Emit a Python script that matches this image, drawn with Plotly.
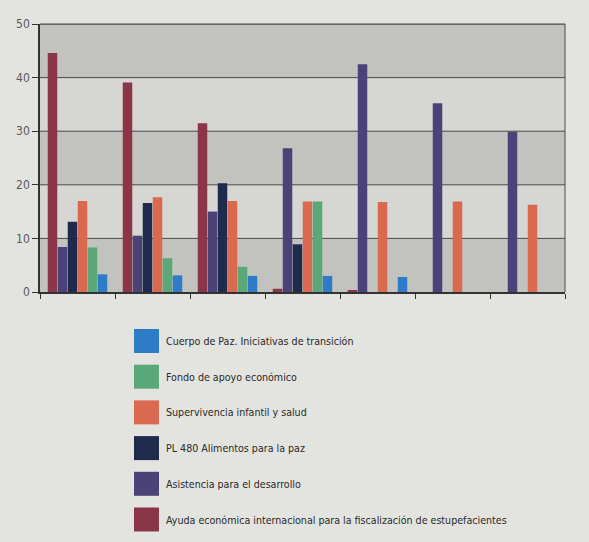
import plotly.graph_objects as go

# Seven programme years (unlabelled groups on the x axis)
groups = [0, 1, 2, 3, 4, 5, 6]

# Series, in bar order within each group
ayuda = [44.6, 39.1, 31.5, 0.6, 0.3, None, None]
asistencia = [8.4, 10.5, 15.0, 26.8, 42.5, 35.2, 29.9]
pl480 = [13.1, 16.6, 20.3, 8.9, None, None, None]
supervivencia = [17.0, 17.7, 17.0, 16.9, 16.8, 16.9, 16.3]
fondo = [8.3, 6.3, 4.7, 16.9, None, None, None]
cuerpo = [3.3, 3.1, 3.0, 3.0, 2.8, None, None]

names = [
    "Ayuda económica internacional para la fiscalización de estupefacientes",
    "Asistencia para el desarrollo",
    "PL 480 Alimentos para la paz",
    "Supervivencia infantil y salud",
    "Fondo de apoyo económico",
    "Cuerpo de Paz. Iniciativas de transición",
]
colors = ["#8a3548", "#4b4377", "#1f2a4c", "#d9694f", "#5aa877", "#2f7cc6"]
series = [ayuda, asistencia, pl480, supervivencia, fondo, cuerpo]

y_ticks = [0, 10, 20, 30, 40, 50]

FONT = "DejaVu Sans Condensed, sans-serif"
W, H = 589, 542
ML, MR, MT, MB = 40, 24, 24, 250

fig = go.Figure()
for name, vals, col in zip(names, series, colors):
    fig.add_trace(go.Bar(x=groups, y=vals, name=name, marker_color=col,
                         marker_line_width=0, showlegend=False))

shapes = []
# alternating horizontal bands behind the bars
for lo, hi in [(0, 10), (20, 30), (40, 50)]:
    shapes.append(dict(type="rect", xref="paper", yref="y", x0=0, x1=1, y0=lo, y1=hi,
                       fillcolor="#c2c2bf", line_width=0, layer="below"))
# grid lines and frame
for yv in y_ticks[1:]:
    shapes.append(dict(type="line", xref="paper", yref="y", x0=0, x1=1, y0=yv, y1=yv,
                       line=dict(color="#4a4a4a", width=1), layer="below"))
shapes.append(dict(type="line", xref="paper", yref="paper", x0=1, x1=1, y0=0, y1=1,
                   line=dict(color="#4a4a4a", width=1)))
shapes.append(dict(type="line", xref="paper", yref="paper", x0=0, x1=1, y0=1, y1=1,
                   line=dict(color="#4a4a4a", width=1)))

# legend drawn below the chart, top to bottom in reverse series order
plot_w = W - ML - MR
plot_h = H - MT - MB


def px_x(px):
    return (px - ML) / plot_w


def px_y(py):
    return (H - MB - py) / plot_h


annotations = []
row_top = 329
row_step = 35.7
for i, (name, col) in enumerate(zip(names[::-1], colors[::-1])):
    top = row_top + i * row_step
    shapes.append(dict(type="rect", xref="paper", yref="paper",
                       x0=px_x(134), x1=px_x(159), y0=px_y(top + 24), y1=px_y(top),
                       fillcolor=col, line_width=0))
    annotations.append(dict(xref="paper", yref="paper", x=px_x(164), y=px_y(top + 12),
                            text=name, showarrow=False, xanchor="left", yanchor="middle",
                            font=dict(family=FONT, size=10.6, color="#2a2a2a")))

fig.update_layout(
    width=W, height=H,
    margin=dict(l=ML, r=MR, t=MT, b=MB),
    paper_bgcolor="#e3e3df",
    plot_bgcolor="#d6d6d2",
    barmode="group",
    bargap=0.2,
    bargroupgap=0.05,
    shapes=shapes,
    annotations=annotations,
    font=dict(family=FONT, color="#555555"),
    xaxis=dict(range=[-0.5, 6.5], tickmode="array",
               tickvals=[g - 0.5 for g in groups] + [6.5],
               showticklabels=False, ticks="outside", ticklen=5, tickcolor="#333333",
               showgrid=False, zeroline=False, showline=True, linecolor="#333333",
               linewidth=1.5),
    yaxis=dict(range=[0, 50], tickvals=y_ticks, ticks="outside", ticklen=6,
               tickcolor="#333333", showgrid=False, zeroline=False, showline=True,
               linecolor="#333333", linewidth=1.5,
               tickfont=dict(family=FONT, size=12, color="#5a5a5a")),
)

fig.write_html("out.html")
